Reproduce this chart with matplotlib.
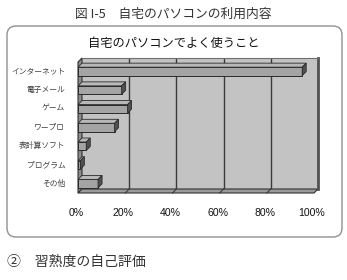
import matplotlib
matplotlib.use('Agg')
import matplotlib.pyplot as plt
from matplotlib.patches import Polygon, Rectangle, FancyBboxPatch
from matplotlib.transforms import IdentityTransform, ScaledTranslation

plt.rcParams['font.family'] = ['Noto Sans CJK JP', 'DejaVu Sans']

# data (percent of respondents)
categories = ['インターネット', '電子メール', 'ゲーム', 'ワープロ', '表計算ソフト', 'プログラム', 'その他']
values = [95, 18.5, 21, 15.5, 3.5, 1, 8.5]
tick_values = [0, 20, 40, 60, 80, 100]
tick_labels = ['0%', '20%', '40%', '60%', '80%', '100%']

W, H = 347, 280
fig = plt.figure(figsize=(W / 100, H / 100), dpi=100)

# outer rounded frame (behind the axes)
frame = FancyBboxPatch((7, H - 237), 335, 211, boxstyle='round,pad=0,rounding_size=9',
                       transform=IdentityTransform(), facecolor='white',
                       edgecolor='#909090', linewidth=1.0, zorder=-5)
fig.add_artist(frame)

fig.text(0.5, 1 - 14 / H, '図 I-5　自宅のパソコンの利用内容', ha='center', va='center',
         fontsize=9.2, color='#333333')
fig.text(174 / W, 1 - 44 / H, '自宅のパソコンでよく使うこと', ha='center', va='center',
         fontsize=8.8, color='#111111')
fig.text(7 / W, 1 - 262 / H, '②　習熟度の自己評価', ha='left', va='center',
         fontsize=10, color='#333333')

left, right, top, bottom = 82, 318, 58, 189
ax = fig.add_axes([left / W, 1 - bottom / H, (right - left) / W, (bottom - top) / H])
ax.set_facecolor('#c3c3c3')
ax.set_xlim(0, 100)
n = len(categories)
ax.set_ylim(n - 0.5, -0.5)

# depth of the 3D effect in data units (about 4 px)
dx = 4 * 100 / (right - left)
dy = 4 * n / (bottom - top)

# side wall and floor
ax.add_patch(Polygon([(0, -0.5), (0, n - 0.5), (-dx, n - 0.5 + dy), (-dx, -0.5 + dy)],
                     closed=True, facecolor='#8c8c8c', edgecolor='#303030', lw=0.8, clip_on=False))
ax.add_patch(Polygon([(0, n - 0.5), (100, n - 0.5), (100 - dx, n - 0.5 + dy), (-dx, n - 0.5 + dy)],
                     closed=True, facecolor='#9a9a9a', edgecolor='#303030', lw=0.8, clip_on=False))

# grid lines on the back wall and floor
for t in tick_values[1:-1]:
    ax.plot([t, t], [-0.5, n - 0.5], color='#3a3a3a', lw=1.0)
    ax.plot([t, t - dx], [n - 0.5, n - 0.5 + dy], color='#3a3a3a', lw=0.8, clip_on=False)

# 3D bars
h = 0.45
for i, v in enumerate(values):
    y0 = i - h / 2
    ax.add_patch(Rectangle((-dx, y0 + dy), v, h, facecolor='#a4a4a4', edgecolor='#2a2a2a',
                           lw=0.7, clip_on=False, zorder=3))
    ax.add_patch(Polygon([(-dx, y0 + dy), (0, y0), (v, y0), (v - dx, y0 + dy)], closed=True,
                         facecolor='#b8b8b8', edgecolor='#2a2a2a', lw=0.6, clip_on=False, zorder=3))
    ax.add_patch(Polygon([(v - dx, y0 + dy), (v, y0), (v, y0 + h), (v - dx, y0 + h + dy)], closed=True,
                         facecolor='#505050', edgecolor='#2a2a2a', lw=0.6, clip_on=False, zorder=3))

for s in ['left', 'bottom']:
    ax.spines[s].set_visible(False)
ax.spines['top'].set_color('#707070')
ax.spines['right'].set_linewidth(2.0)
ax.spines['right'].set_color('#505050')

ax.set_xticks(tick_values)
ax.set_xticklabels(tick_labels, fontsize=7.6, color='#111111', family=['Liberation Sans', 'DejaVu Sans'])
ax.set_yticks(range(n))
ax.set_yticklabels(categories, fontsize=5.6, color='#404040')
ax.tick_params(axis='x', length=0, pad=14)
ax.tick_params(axis='y', length=0, pad=12)

shift_x = ScaledTranslation(-6 / 100, 0, fig.dpi_scale_trans)
for lab in ax.get_xticklabels():
    lab.set_transform(lab.get_transform() + shift_x)
shift_y = ScaledTranslation(0, -3 / 100, fig.dpi_scale_trans)
for lab in ax.get_yticklabels():
    lab.set_transform(lab.get_transform() + shift_y)

fig.savefig('out.png', dpi=100)
